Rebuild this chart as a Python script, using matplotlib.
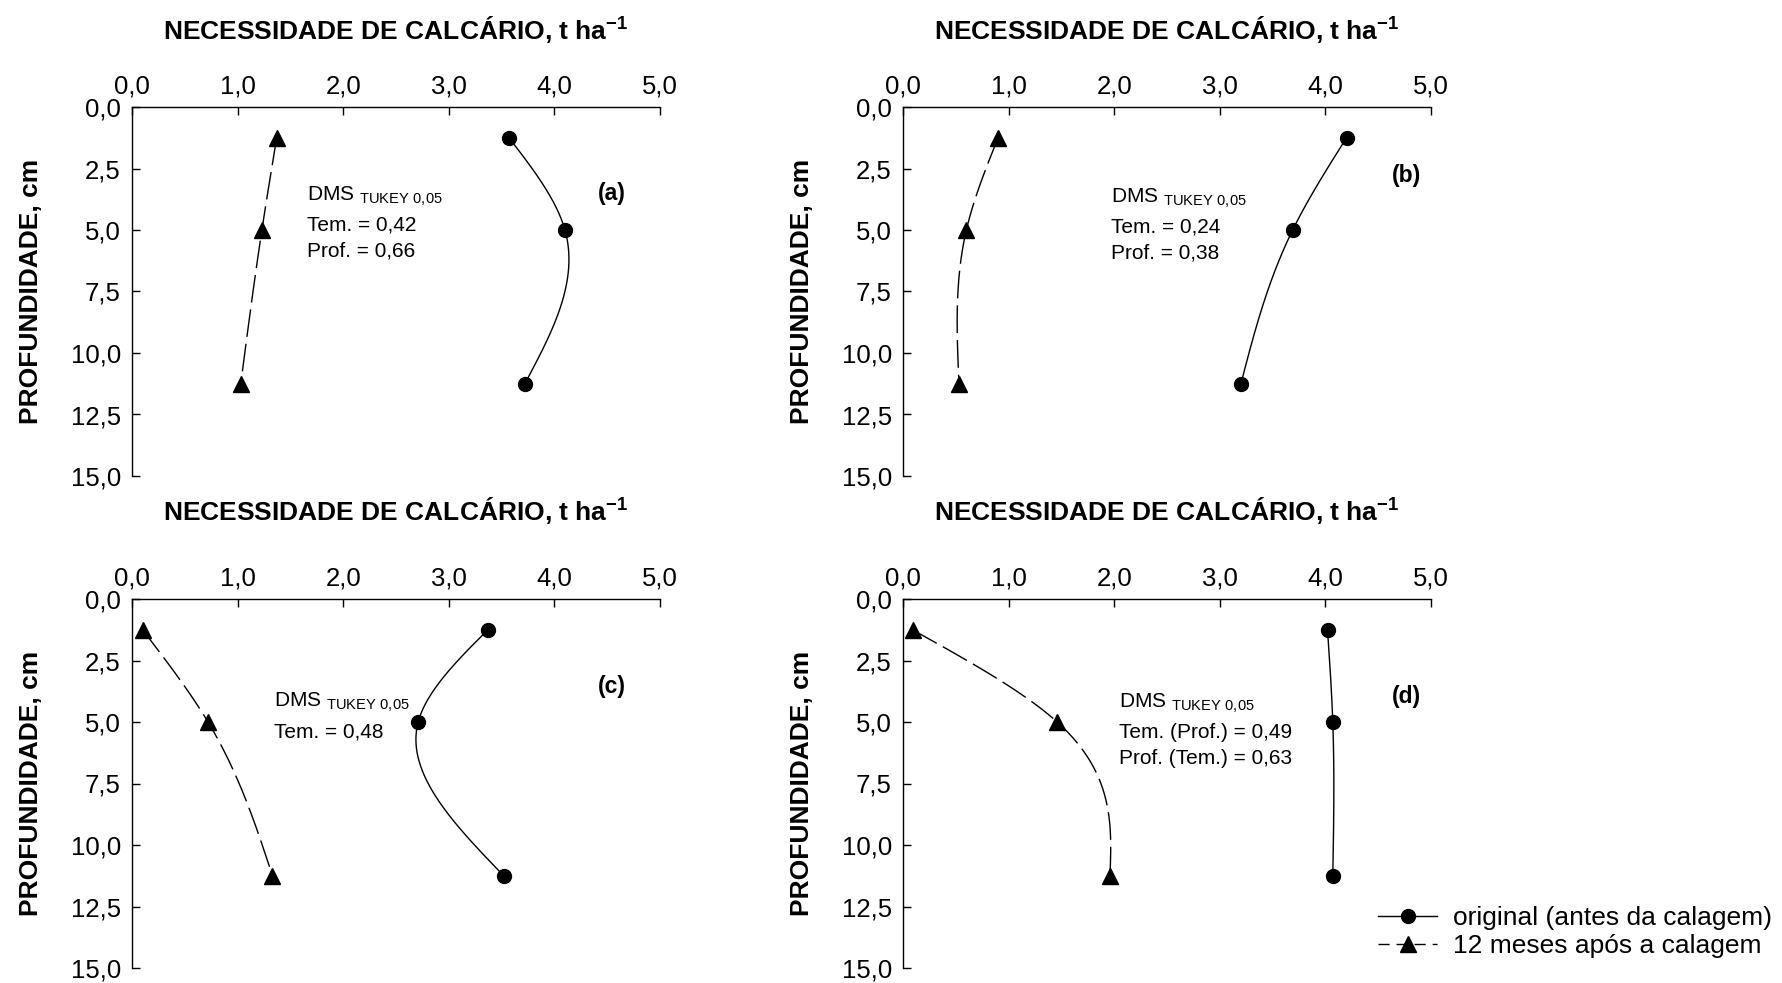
import numpy as np
import matplotlib
matplotlib.use("Agg")
import matplotlib.pyplot as plt
from matplotlib.lines import Line2D

plt.rcParams['font.family'] = ['Liberation Sans', 'DejaVu Sans']
plt.rcParams['mathtext.fontset'] = 'custom'
plt.rcParams['mathtext.rm'] = 'Liberation Sans'
plt.rcParams['mathtext.bf'] = 'Liberation Sans:bold'

# profundidade (cm) - centro das camadas
depth = [1.25, 5.0, 11.25]

# necessidade de calcario, t ha-1
original = {
    'a': [3.57, 4.10, 3.72],
    'b': [4.20, 3.69, 3.20],
    'c': [3.37, 2.71, 3.52],
    'd': [4.02, 4.07, 4.07],
}
apos12 = {
    'a': [1.37, 1.23, 1.03],
    'b': [0.90, 0.60, 0.53],
    'c': [0.10, 0.72, 1.33],
    'd': [0.09, 1.46, 1.96],
}

dms_lines = {
    'a': ['Tem. = 0,42', 'Prof. = 0,66'],
    'b': ['Tem. = 0,24', 'Prof. = 0,38'],
    'c': ['Tem. = 0,48'],
    'd': ['Tem. (Prof.) = 0,49', 'Prof. (Tem.) = 0,63'],
}
# posicao do texto DMS (x, prof) e do rotulo do painel
dms_pos = {'a': (1.66, 3.78), 'b': (1.97, 3.86), 'c': (1.34, 4.35), 'd': (2.05, 4.39)}
lab_pos = {'a': (4.54, 3.5), 'b': (4.77, 2.8), 'c': (4.54, 3.55), 'd': (4.77, 3.98)}

x_ticks = [0, 1, 2, 3, 4, 5]
x_labels = ['0,0', '1,0', '2,0', '3,0', '4,0', '5,0']
y_ticks = [0, 2.5, 5, 7.5, 10, 12.5, 15]
y_labels = ['0,0', '2,5', '5,0', '7,5', '10,0', '12,5', '15,0']


def natural_spline(t, v, n=200):
    # spline cubica natural x(prof) passando pelos 3 pontos
    t = np.asarray(t, float)
    v = np.asarray(v, float)
    h = np.diff(t)
    M = np.zeros(3)
    rhs = 6 * ((v[2] - v[1]) / h[1] - (v[1] - v[0]) / h[0])
    M[1] = rhs / (2 * (h[0] + h[1]))
    tt = np.linspace(t[0], t[-1], n)
    out = np.empty_like(tt)
    for k, tv in enumerate(tt):
        i = 0 if tv <= t[1] else 1
        a = t[i + 1] - tv
        b = tv - t[i]
        out[k] = (M[i] * a ** 3 + M[i + 1] * b ** 3) / (6 * h[i]) \
            + (v[i] / h[i] - M[i] * h[i] / 6) * a \
            + (v[i + 1] / h[i] - M[i + 1] * h[i] / 6) * b
    return out, tt


fig = plt.figure(figsize=(17.82, 9.83), dpi=100)
W, H = 1782, 983
boxes = {'a': (132, 107), 'b': (903, 107), 'c': (132, 599), 'd': (903, 599)}
title_y = {'a': 1.208, 'b': 1.208, 'c': 1.238, 'd': 1.238}
aw, ah = 528, 369

dash = (0, (20, 5))
for key, (px, py) in boxes.items():
    ax = fig.add_axes([px / W, 1 - (py + ah) / H, aw / W, ah / H])
    xs, ds = natural_spline(depth, original[key])
    ax.plot(xs, ds, color='black', lw=1.0)
    ax.plot(original[key], depth, 'o', color='black', ms=10)
    xs, ds = natural_spline(depth, apos12[key])
    ax.plot(xs, ds, color='black', lw=1.0, linestyle=dash)
    ax.plot(apos12[key], depth, '^', color='black', ms=11)

    ax.set_xlim(0, 5)
    ax.set_ylim(15, 0)
    ax.xaxis.tick_top()
    ax.set_xticks(x_ticks)
    ax.set_xticklabels(x_labels)
    ax.set_yticks(y_ticks)
    ax.set_yticklabels(y_labels)
    ax.tick_params(direction='in', length=6, width=1, labelsize=18.5)
    ax.tick_params(axis='x', pad=6)
    ax.tick_params(axis='y', pad=8)
    for s in ['right', 'bottom']:
        ax.spines[s].set_visible(False)
    for s in ['left', 'top']:
        ax.spines[s].set_linewidth(1.0)

    ax.text(0.5, title_y[key], r'NECESSIDADE DE CALCÁRIO, t ha$^{\mathbf{-1}}$',
            transform=ax.transAxes, ha='center', va='center',
            fontsize=19, fontweight='bold')
    ax.text(-0.191, 0.5, 'PROFUNDIDADE, cm', transform=ax.transAxes,
            rotation=90, ha='center', va='center', fontsize=19, fontweight='bold')

    dx, dy = dms_pos[key]
    ax.text(dx, dy, r'DMS $_{\mathrm{TUKEY\ 0{,}05}}$', ha='left', va='baseline',
            fontsize=15)
    for j, line in enumerate(dms_lines[key]):
        ax.annotate(line, (dx, dy), xytext=(0, -31 - 26 * j),
                    textcoords='offset pixels', ha='left', va='baseline',
                    fontsize=15)
    lx, ly = lab_pos[key]
    ax.text(lx, ly, '(%s)' % key, ha='center', va='center', fontsize=16.5,
            fontweight='bold')

handles = [
    Line2D([], [], color='black', lw=1.0, marker='o', ms=10),
    Line2D([], [], color='black', lw=1.0, linestyle=(0, (8, 5)), marker='^', ms=11),
]
fig.legend(handles, ['original (antes da calagem)', '12 meses após a calagem'],
           loc='center left', bbox_to_anchor=(1378 / W, 1 - 932 / H),
           frameon=False, fontsize=19, handlelength=2.25, handletextpad=0.6,
           labelspacing=0.15, borderpad=0, borderaxespad=0)

fig.savefig('out.png', dpi=100)
